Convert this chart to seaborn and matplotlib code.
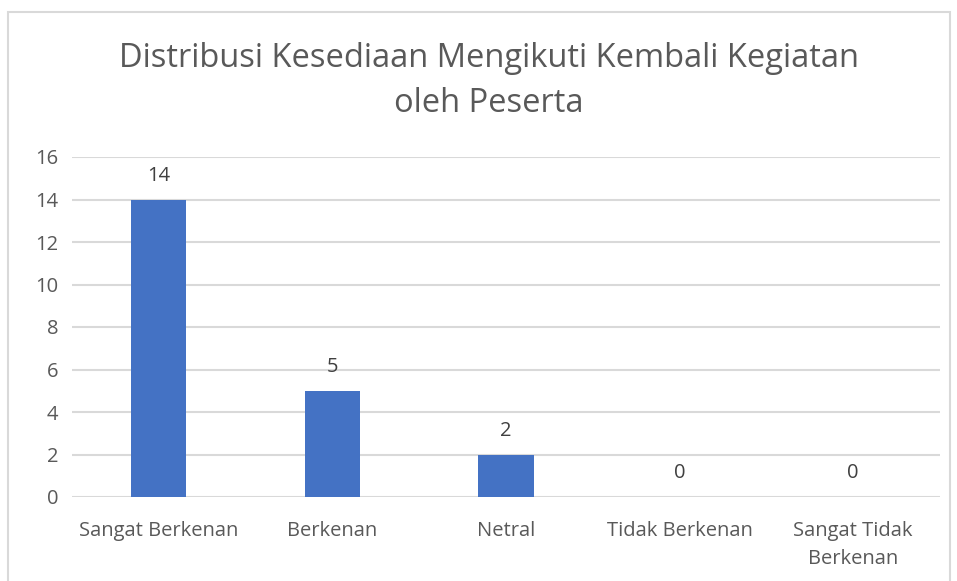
import matplotlib
matplotlib.use("Agg")
import matplotlib.pyplot as plt
import seaborn as sns
import pandas as pd
from matplotlib.patches import Rectangle

categories = ["Sangat Berkenan", "Berkenan", "Netral", "Tidak Berkenan", "Sangat Tidak\nBerkenan"]
values = [14, 5, 2, 0, 0]
yticks = [0, 2, 4, 6, 8, 10, 12, 14, 16]
title = "Distribusi Kesediaan Mengikuti Kembali Kegiatan\noleh Peserta"

sns.set_theme(style="white")
plt.rcParams["font.family"] = ["Open Sans", "DejaVu Sans"]
W, H = 957, 581
fig = plt.figure(figsize=(W / 100, H / 100), dpi=100)
ax = fig.add_axes([72 / W, 1 - 497 / H, (940 - 72) / W, (497 - 157) / H])

df = pd.DataFrame({"cat": categories, "val": values})
sns.barplot(data=df, x="cat", y="val", color="#4472C4", width=0.317, ax=ax,
            saturation=1, linewidth=0)

ax.set_ylim(0, 16)
ax.set_yticks(yticks)
ax.set_xlim(-0.5, len(categories) - 0.5)
ax.yaxis.grid(True, color="#D9D9D9", linewidth=1.5)
ax.set_axisbelow(True)
for s in ax.spines.values():
    s.set_visible(False)
ax.set_xlabel("")
ax.set_ylabel("")
ax.tick_params(axis="both", length=0, labelsize=14.5, colors="#595959")
ax.tick_params(axis="y", pad=10)
ax.tick_params(axis="x", pad=17)
for lbl in ax.get_yticklabels():
    lbl.set_color("#595959")
for lbl in ax.get_xticklabels():
    lbl.set_color("#595959")
    lbl.set_linespacing(1.55)

for i, v in enumerate(values):
    ax.annotate(str(v), (i, v), xytext=(0, 10), textcoords="offset points",
                ha="center", va="bottom", fontsize=14.5, color="#404040")

fig.text(489 / W, 1 - 81 / H, title, ha="center", va="center", fontsize=23.5,
         color="#595959", linespacing=1.45)

fig.patches.append(Rectangle((8 / W, -0.05), (950 - 8) / W, 1 - 12 / H + 0.05,
                             transform=fig.transFigure, fill=False,
                             edgecolor="#D9D9D9", linewidth=1.5))

fig.savefig("out.png", dpi=100, facecolor="white")
